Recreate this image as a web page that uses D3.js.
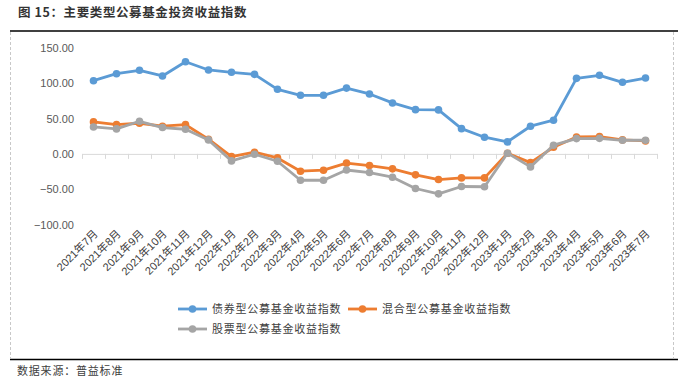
<!DOCTYPE html>
<html>
<head>
<meta charset="utf-8">
<script src="https://cdn.jsdelivr.net/npm/d3@7"></script>
<style>
  body { margin: 0; background: #fff; }
  svg text { font-family: "Liberation Sans", Arial, "Noto Sans CJK SC", sans-serif; }
  .cjk { font-family: "Noto Sans CJK SC", sans-serif; }
  .y-axis text { font-size: 11px; fill: #595959; }
  .x-label { font-size: 11px; fill: #404040; }
</style>
</head>
<body>
<svg id="chart" width="685" height="380"></svg>
<script>
const months = [
  "2021年7月", "2021年8月", "2021年9月", "2021年10月", "2021年11月", "2021年12月",
  "2022年1月", "2022年2月", "2022年3月", "2022年4月", "2022年5月", "2022年6月",
  "2022年7月", "2022年8月", "2022年9月", "2022年10月", "2022年11月", "2022年12月",
  "2023年1月", "2023年2月", "2023年3月", "2023年4月", "2023年5月", "2023年6月", "2023年7月"
];
const bondIndex = [
  103.7, 113.6, 118.4, 110.4, 130.6, 118.9, 115.6, 112.7, 91.5, 83.0, 83.0, 93.2,
  84.9, 72.2, 62.7, 62.3, 35.8, 23.6, 17.0, 39.2, 47.7, 107.0, 111.3, 101.4, 107.5
];
const mixedIndex = [
  45.3, 41.5, 43.4, 39.2, 41.5, 20.8, -3.8, 2.4, -5.7, -24.5, -23.1, -13.1,
  -16.5, -21.2, -29.7, -36.3, -34.0, -34.0, 1.0, -12.3, 9.4, 24.0, 24.5, 19.8, 18.4
];
const stockIndex = [
  38.2, 35.4, 46.2, 37.3, 34.9, 19.8, -9.9, -0.5, -10.4, -37.3, -37.3, -22.8,
  -26.4, -33.0, -49.0, -56.6, -46.2, -46.5, 1.0, -18.4, 12.3, 21.7, 22.0, 19.3, 19.3
];
const yTicks = [-100, -50, 0, 50, 100, 150];
const seriesNames = ["债券型公募基金收益指数", "混合型公募基金收益指数", "股票型公募基金收益指数"];
const colors = ["#5B9BD5", "#ED7D31", "#A5A5A5"];

const svg = d3.select("svg#chart");
const plot = { left: 82, right: 657, top: 48, bottom: 224.5 };

// header, frame and footer
svg.append("text")
  .attr("class", "cjk")
  .attr("x", 18).attr("y", 17)
  .attr("font-size", 12.5).attr("font-weight", "bold")
  .attr("letter-spacing", 0.6)
  .attr("fill", "#333")
  .text("图 15：主要类型公募基金投资收益指数");
svg.append("line")
  .attr("x1", 10).attr("x2", 678).attr("y1", 31).attr("y2", 31)
  .attr("stroke", "#000").attr("stroke-width", 1.5);
svg.append("line")
  .attr("x1", 10).attr("x2", 678).attr("y1", 359.5).attr("y2", 359.5)
  .attr("stroke", "#000").attr("stroke-width", 1.5);
[10.5, 673.5].forEach((x) => {
  svg.append("line")
    .attr("x1", x).attr("x2", x).attr("y1", 32).attr("y2", 358)
    .attr("stroke", "#c8c8c8").attr("stroke-dasharray", "3,2");
});
svg.append("text")
  .attr("class", "cjk")
  .attr("x", 17).attr("y", 375)
  .attr("font-size", 11).attr("letter-spacing", 0.8)
  .attr("fill", "#404040")
  .text("数据来源：普益标准");

// scales
const xScale = d3.scaleBand(months, [plot.left, plot.right]);
const xEdges = d3.scaleLinear([0, months.length], [plot.left, plot.right]);
const yScale = d3.scaleLinear([-100, 150], [plot.bottom, plot.top]);
const xMid = (i) => xScale(months[i]) + xScale.bandwidth() / 2;

// y axis labels only
const yAxis = d3.axisLeft(yScale)
  .tickValues(yTicks)
  .tickFormat(d3.format(".2f"))
  .tickSize(0)
  .tickPadding(0);
svg.append("g")
  .attr("class", "y-axis")
  .attr("transform", "translate(74,0)")
  .call(yAxis)
  .call((g) => g.select(".domain").remove());

// zero axis line with boundary ticks
const xAxis = d3.axisBottom(xEdges)
  .tickValues(d3.range(months.length + 1))
  .tickFormat("")
  .tickSize(5)
  .tickSizeOuter(0);
svg.append("g")
  .attr("class", "x-axis")
  .attr("transform", `translate(0,${yScale(0)})`)
  .call(xAxis)
  .call((g) => g.selectAll("line, path").attr("stroke", "#d9d9d9"));

// category labels at bottom of plot area
svg.append("g")
  .selectAll("text")
  .data(months)
  .join("text")
  .attr("class", "x-label")
  .attr("text-anchor", "end")
  .attr("transform", (d, i) => `translate(${xMid(i) + 5},${plot.bottom + 10}) rotate(-45)`)
  .text((d) => d);

// lines
const allSeries = [bondIndex, mixedIndex, stockIndex];
const gen = d3.line((d, i) => xMid(i), (d) => yScale(d));
allSeries.forEach((values, k) => {
  const g = svg.append("g");
  g.append("path")
    .datum(values)
    .attr("fill", "none")
    .attr("stroke", colors[k])
    .attr("stroke-width", 2.8)
    .attr("stroke-linejoin", "round")
    .attr("d", gen);
  g.selectAll("circle")
    .data(values)
    .join("circle")
    .attr("r", 3.8)
    .attr("fill", colors[k])
    .attr("cx", (d, i) => xMid(i))
    .attr("cy", (d) => yScale(d));
});

// legend
const legendPos = [[178, 309], [348, 309], [178, 329]];
seriesNames.forEach((name, k) => {
  const [lx, ly] = legendPos[k];
  const g = svg.append("g").attr("transform", `translate(${lx},${ly})`);
  g.append("line")
    .attr("x1", 0).attr("x2", 29).attr("y1", 0).attr("y2", 0)
    .attr("stroke", colors[k]).attr("stroke-width", 2.8);
  g.append("circle").attr("cx", 14.5).attr("cy", 0).attr("r", 3.8).attr("fill", colors[k]);
  g.append("text")
    .attr("class", "cjk")
    .attr("x", 34).attr("y", 4)
    .attr("font-size", 11).attr("letter-spacing", 0.75)
    .attr("fill", "#404040")
    .text(name);
});
</script>
</body>
</html>
